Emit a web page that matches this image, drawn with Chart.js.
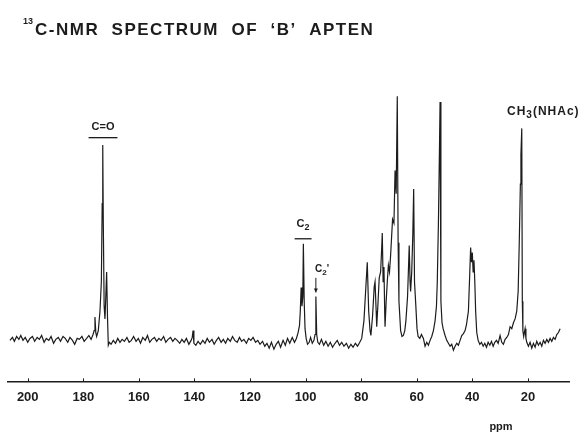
<!DOCTYPE html>
<html>
<head>
<meta charset="utf-8">
<script src="https://cdn.jsdelivr.net/npm/chart.js@4"></script>
<style>
  html, body { margin: 0; padding: 0; background: #fff; }
  canvas { display: block; }
</style>
</head>
<body>
<canvas id="nmrChart" width="584" height="434"></canvas>
<script>
// chemical shift (ppm) from left to right
const ppm = [
  206.4, 205.5, 204.8, 204.0, 203.2, 202.5, 201.7, 200.9, 200.0, 199.2,
  198.3, 197.5, 196.6, 195.8, 195.0, 194.1, 193.3, 192.4, 191.6, 190.7,
  189.9, 189.0, 188.2, 187.3, 186.5, 185.6, 184.8, 183.9, 183.1, 182.2,
  181.4, 180.5, 179.7, 178.8, 178.0, 177.2, 176.5, 176.1, 175.8, 175.5,
  175.2, 174.6, 174.0, 173.5, 173.2, 173.0, 172.8, 172.5, 172.2, 171.9,
  171.6, 171.3, 171.0, 170.6, 170.0, 169.2, 168.4, 167.6, 166.8, 166.0,
  165.2, 164.3, 163.5, 162.7, 161.9, 161.0, 160.2, 159.4, 158.6, 157.7,
  156.9, 156.1, 155.3, 154.4, 153.6, 152.8, 152.0, 151.1, 150.3, 149.5,
  148.6, 147.8, 147.0, 146.2, 145.3, 144.5, 143.7, 142.9, 142.0, 141.2,
  140.8, 140.5, 140.2, 139.5, 138.7, 137.9, 137.0, 136.2, 135.4, 134.6,
  133.7, 132.9, 132.1, 131.3, 130.4, 129.6, 128.8, 128.0, 127.1, 126.3,
  125.5, 124.6, 123.8, 123.0, 122.2, 121.3, 120.5, 119.7, 118.9, 118.0,
  117.2, 116.4, 115.5, 114.7, 113.9, 113.1, 112.3, 111.4, 110.6, 109.8,
  109.0, 108.1, 107.3, 106.5, 105.7, 104.8, 104.0, 103.3, 102.7, 102.2,
  101.9, 101.6, 101.3, 101.0, 100.8, 100.5, 100.2, 99.8, 99.3, 98.7,
  98.2, 97.6, 97.0, 96.6, 96.3, 96.0, 95.6, 95.0, 94.3, 93.5,
  92.7, 91.9, 91.1, 90.3, 89.4, 88.6, 87.8, 87.0, 86.2, 85.3,
  84.5, 83.7, 82.9, 82.1, 81.3, 80.5, 79.8, 79.0, 78.4, 77.8,
  77.3, 76.8, 76.5, 75.9, 75.3, 75.0, 74.6, 74.4, 74.0, 73.5,
  73.0, 72.6, 72.4, 72.1, 71.8, 71.5, 71.4, 71.0, 70.6, 70.2,
  69.8, 69.4, 68.7, 68.2, 67.8, 67.4, 67.0, 66.7, 66.4, 65.8,
  65.3, 64.8, 64.3, 63.9, 63.3, 62.9, 62.7, 62.4, 62.2, 61.8,
  61.4, 61.1, 60.8, 60.3, 59.9, 59.5, 58.9, 58.3, 57.6, 57.0,
  56.4, 55.8, 55.2, 54.6, 54.0, 53.4, 52.9, 52.6, 52.2, 51.8,
  51.6, 51.3, 50.9, 50.5, 49.8, 49.2, 48.6, 48.0, 47.4, 46.8,
  46.2, 45.6, 45.0, 44.4, 43.8, 43.2, 42.6, 42.1, 41.7, 41.4,
  41.2, 40.9, 40.6, 40.3, 40.0, 39.7, 39.4, 39.1, 38.8, 38.4,
  37.9, 37.3, 36.7, 36.1, 35.5, 34.9, 34.3, 33.7, 33.1, 32.5,
  31.9, 31.3, 30.7, 30.0, 29.4, 28.8, 28.2, 27.6, 27.0, 26.4,
  25.8, 25.2, 24.6, 24.0, 23.5, 23.1, 22.7, 22.5, 22.2, 22.0,
  21.8, 21.5, 21.2, 21.0, 20.7, 20.4, 19.8, 19.2, 18.6, 18.0,
  17.4, 16.8, 16.2, 15.6, 15.0, 14.4, 13.8, 13.2, 12.6, 12.0,
  11.4, 10.8, 10.2, 9.6, 9.0, 8.4
];

// signal height above the baseline (arbitrary units)
const intensity = [
  0, 3, -1, 4, 1, 5, 0, 3, -2, 2,
  4, -1, 3, 1, 5, -2, 2, 0, 4, -3,
  1, 3, -1, 4, 2, -2, 3, 0, -4, 2,
  1, 4, -1, 2, 5, 1, 6, 10, 24, 8,
  4, 10, 30, 60, 140, 200, 120, 35, 22, 45,
  70, 25, -5, -2, -4, 0, -3, 2, -2, 1,
  -1, 3, -2, 0, 4, -1, 2, -3, 3, 0,
  5, -2, 1, 3, -1, 2, 0, 4, -2, 1,
  3, -1, 2, 0, -3, 1, -2, 2, -4, 0,
  3, 10, -3, -5, -1, -4, 0, -3, 2, -2,
  1, -4, 0, 3, -2, 1, -3, 2, -1, 4,
  0, -2, 3, -1, 1, -3, 2, 0, 3, -2,
  0, -4, -1, -6, -3, -8, -2, -9, -4, -1,
  -7, 0, -5, 2, -3, 3, -2, 2, 8, 15,
  30, 54, 35, 45, 99, 40, 12, 2, -4, -2,
  3, -3, 0, 6, 45, 6, -2, -4, 1, -5,
  -1, -6, -2, -7, -3, 0, -5, -2, -6, -3,
  -8, -4, -7, -3, -6, -2, 2, 20, 50, 80,
  30, 10, 5, 25, 55, 60, 30, 14, 35, 64,
  70, 95, 110, 60, 75, 25, 14, 40, 60, 77,
  70, 87, 124, 120, 174, 150, 250, 100, 40, 10,
  4, 5, 10, 20, 45, 80, 97, 60, 50, 70,
  110, 155, 60, 34, 12, 4, 2, 6, 2, -6,
  -2, -5, 0, 4, 10, 20, 35, 60, 120, 200,
  244, 40, 18, 12, 5, 0, -3, -6, -4, -10,
  -6, -3, -5, 0, 5, 7, 10, 16, 24, 30,
  30, 70, 95, 80, 90, 70, 82, 60, 30, 8,
  0, -4, -2, -6, -3, -7, -2, -5, -1, -6,
  -2, 0, -3, 5, -2, -4, 1, 3, 6, 14,
  12, 18, 22, 30, 50, 100, 160, 190, 217, 40,
  10, 4, 9, 12, 2, -2, -6, -2, -8, -3,
  -7, -1, -5, -2, -6, 0, -3, 1, -2, 2,
  -1, 3, 1, 6, 8, 12
];

const tickValues = [200, 180, 160, 140, 120, 100, 80, 60, 40, 20];
const tickLabels = ['200', '180', '160', '140', '120', '100', '80', '60', '40', '20'];

const ink = '#1c1c1c';
const face = '"Liberation Sans", Arial, sans-serif';

// text pieces of each peak label; sub = subscript
const labelCO = [{ t: 'C=O' }];
const labelC2 = [{ t: 'C' }, { t: '2', sub: true }];
const labelC2b = [{ t: 'C' }, { t: '2', sub: true }, { t: "'" }];
const labelCH3 = [{ t: 'CH' }, { t: '3', sub: true }, { t: '(NHAc)' }];

function partsWidth(ctx, parts, size) {
  let w = 0;
  parts.forEach(p => {
    ctx.font = `bold ${p.sub ? size - 2 : size}px ${face}`;
    w += ctx.measureText(p.t).width;
  });
  return w;
}

function drawParts(ctx, parts, px, py, size, align) {
  const w = partsWidth(ctx, parts, size);
  let cx = align === 'center' ? px - w / 2 : px;
  parts.forEach(p => {
    ctx.font = `bold ${p.sub ? size - 2 : size}px ${face}`;
    ctx.fillText(p.t, cx, p.sub ? py + 3 : py);
    cx += ctx.measureText(p.t).width;
  });
  return w;
}

const decor = {
  id: 'decor',
  afterDraw(chart) {
    const { ctx, chartArea, scales: { x, y } } = chart;
    ctx.save();
    ctx.fillStyle = ink;
    ctx.strokeStyle = ink;
    ctx.textAlign = 'left';
    ctx.textBaseline = 'alphabetic';

    // title
    ctx.font = `bold 9px ${face}`;
    ctx.fillText('13', 23, 24);
    ctx.font = `bold 17px ${face}`;
    ctx.letterSpacing = '1.5px';
    ctx.fillText('C-NMR  SPECTRUM  OF  \u2018B\u2019  APTEN', 35, 35);
    ctx.letterSpacing = '0px';

    // small tick marks standing on the axis
    ctx.lineWidth = 1;
    tickValues.forEach(v => {
      const px = Math.round(x.getPixelForValue(v)) + 0.5;
      ctx.beginPath();
      ctx.moveTo(px, chartArea.bottom);
      ctx.lineTo(px, chartArea.bottom - 3);
      ctx.stroke();
    });

    // C=O
    let w = drawParts(ctx, labelCO, x.getPixelForValue(172.9), y.getPixelForValue(215), 11, 'center');
    let cx = x.getPixelForValue(172.9);
    let uy = y.getPixelForValue(207.5);
    ctx.lineWidth = 1.3;
    ctx.beginPath();
    ctx.moveTo(cx - w / 2 - 3, uy);
    ctx.lineTo(cx + w / 2 + 3, uy);
    ctx.stroke();

    // C2
    cx = x.getPixelForValue(100.9);
    w = drawParts(ctx, labelC2, cx, y.getPixelForValue(116), 11, 'center');
    uy = y.getPixelForValue(104);
    ctx.beginPath();
    ctx.moveTo(cx - w / 2 - 2, uy);
    ctx.lineTo(cx + w / 2 + 2, uy);
    ctx.stroke();

    // C2' with arrow
    drawParts(ctx, labelC2b, x.getPixelForValue(96.6), y.getPixelForValue(70), 10, 'left');
    const ax = x.getPixelForValue(96.3);
    const top = y.getPixelForValue(64);
    const tip = y.getPixelForValue(49);
    ctx.lineWidth = 1;
    ctx.beginPath();
    ctx.moveTo(ax, top);
    ctx.lineTo(ax, tip);
    ctx.stroke();
    ctx.beginPath();
    ctx.moveTo(ax - 2, tip - 4);
    ctx.lineTo(ax + 2, tip - 4);
    ctx.lineTo(ax, tip);
    ctx.closePath();
    ctx.fill();

    // CH3(NHAc)
    ctx.letterSpacing = '1px';
    drawParts(ctx, labelCH3, x.getPixelForValue(27.5), y.getPixelForValue(231), 12, 'left');
    ctx.letterSpacing = '0px';

    // unit
    ctx.font = `bold 11px ${face}`;
    ctx.textAlign = 'center';
    ctx.fillText('ppm', 501, 430);
    ctx.restore();
  }
};

new Chart(document.getElementById('nmrChart'), {
  type: 'line',
  data: {
    datasets: [{
      data: ppm.map((v, i) => ({ x: v, y: intensity[i] })),
      borderColor: ink,
      borderWidth: 1.2,
      pointRadius: 0,
      tension: 0,
      fill: false
    }]
  },
  options: {
    responsive: false,
    animation: false,
    layout: { padding: { left: 8, right: 15, top: 60, bottom: 29 } },
    plugins: {
      legend: { display: false },
      tooltip: { enabled: false }
    },
    scales: {
      x: {
        type: 'linear',
        reverse: true,
        min: 5.2,
        max: 207.1,
        afterBuildTicks: scale => {
          scale.ticks = tickValues.map(v => ({ value: v }));
        },
        ticks: {
          color: ink,
          padding: 0,
          maxRotation: 0,
          autoSkip: false,
          font: { family: 'Liberation Sans', size: 13, weight: 'bold' },
          callback: (value, index) => tickLabels[index]
        },
        grid: { display: false },
        border: { display: true, color: ink, width: 1.5 }
      },
      y: { display: false, min: -42, max: 287 }
    }
  },
  plugins: [decor]
});
</script>
</body>
</html>
